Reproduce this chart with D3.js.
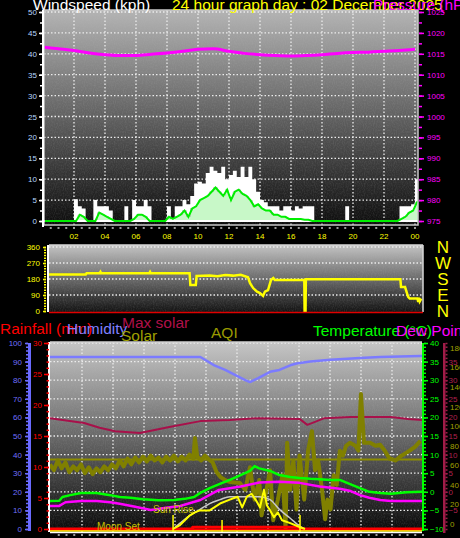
<!DOCTYPE html>
<html>
<head>
<meta charset="utf-8">
<script src="https://cdn.jsdelivr.net/npm/d3@7"></script>
<style>
  body { margin: 0; background: #000; }
  svg { display: block; }
  text { font-family: "Liberation Sans", Arial, sans-serif; }
</style>
</head>
<body>
<svg id="chart" width="460" height="538"></svg>
<script>
// ---- shared hour axis
const hourTicks = [2, 4, 6, 8, 10, 12, 14, 16, 18, 20, 22, 24];
const hourLabels = ["02", "04", "06", "08", "10", "12", "14", "16", "18", "20", "22", "00"];

// ---- windspeed (kph), one reading per quarter hour from 00:00
const windGust = [0,0,0,0,0,0,0,0, 5.2,3.5,3.0,0, 0,5.0,3.5,3.5,3.5,2.5, 0,0,0,3.5,0,
  5.0,3.5,3.5,5.0,3.5, 0,0,0,0, 3.5,0,3.5,3.5, 5.0,4.0,6.0,9.0,
  9.4,9.0,11.5,13.0,12.0,11.5,13.0,10.0, 11.0,12.0,10.5,13.0,10.5,13.0,10.0,7.0,
  5.0,4.5,3.5,3.5,3.5,2.5,3.5,3.5, 2.5,3.5,3.0,3.5,3.5,3.5,
  0,0,0,0,0,0,0,0, 3.5, 0,0,0,0,0,0,0,0,0,0,0,0,0, 3.5,3.5,3.5,4.0,10.0,8.0];
const windAvg = [0,0,0,0,0,0,0,0,0, 1.5,1.0, 0,0,0, 2.0,1.5,1.0,0.5, 0,0,0,0,0,
  0.5,1.5,1.5,1.0, 0,0,0,0,0, 1.0,0.5,1.0,1.5, 2.5,1.0,3.0,3.5,
  5.0,5.5,6.0,7.0,8.0,7.0,6.0,7.5, 5.0,7.0,7.5,6.5,6.0,5.0,3.5,4.0,
  3.0,2.5,2.5,1.5,1.5,1.0,1.0,0.5, 0.5,0.5,0.5,0.3,0.3,0,
  0,0,0,0,0,0,0,0,0,0,0,0,0,0,0,0,0,0,0,0,0,0, 0.5,1.0,2.0,2.5,4.5,5.0];

// ---- pressure (hPa), hourly
const pressureHours = [0,1,2,3,4,5,6,7,8,9,10,11,12,13,14,15,16,17,18,19,20,21,22,23,24];
const pressure = [1016.6,1016.2,1015.8,1015.2,1014.8,1014.6,1014.6,1014.9,1015.2,1015.6,1016.1,1016.2,
  1015.6,1015.1,1014.8,1014.6,1014.5,1014.6,1014.8,1015.1,1015.3,1015.4,1015.6,1015.8,1016.1];

// ---- wind direction (degrees)
const dirHours = [0,2.5,2.55,3.4,3.45,3.5,6.6,6.65,6.7,9.2,9.25,9.6,9.65,10.5,11,11.5,12,12.5,12.97,13.1,13.3,
  13.55,13.74,13.94,14.06,14.26,14.45,14.6,14.7,16.6,16.62,16.68,16.7,22.8,22.84,23.1,23.3,23.4,23.9,23.95,24.0,24.05,24.15];
const dirDeg = [206,206,212,212,220,212,212,220,212,212,146,146,197,199,196,202,199,204,190,157,129,
  109,101,85,109,118,174,185,175,175,0,0,178,178,135,135,80,71,71,50,75,55,70];

// ---- lower panel
const humHours = [0,2,4,6,8,9.7,10,10.6,11.3,11.9,12.6,12.9,13.4,14.2,14.8,15.5,15.9,16.8,18.1,20,21.3,23.9,24];
const humidity = [92.5,92.5,92.5,92.5,92.5,92.5,91,88,85.5,83,80,79,81,84.5,85.5,88,89,90,91,92,92.5,93,93];

const tempHours = [0,0.6,0.8,1.3,2,3,3.9,4.5,5.2,6,7,8,8.7,9.3,9.7,10.3,11,11.6,12.3,12.9,13.2,13.5,14.2,14.8,
  15.5,16.1,16.8,17.4,18.1,18.7,19.4,20,20.6,21.3,22,23,24];
const temperature = [-2.5,-2.4,-1.4,-0.9,-0.3,-0.3,-0.9,-1.4,-1.6,-2.0,-2.3,-2.2,-1.9,-1.4,-0.3,1.0,2.2,3.2,4.5,5.6,
  6.9,6.3,5.6,4.5,4.0,3.7,3.5,3.4,3.2,3.2,2.0,1.0,0.0,-0.3,-0.5,-0.1,0];

const dewHours = [0,0.6,1,2,3,3.9,4.5,5.5,6.5,7.5,8.4,9.7,10.9,12.3,13.5,14.8,16.1,17.4,18.7,19.4,20,20.6,21.3,22,24];
const dewPoint = [-3.8,-3.8,-2.8,-2.5,-2.5,-2.8,-3.2,-4.0,-4.9,-4.3,-3.8,-2.2,0.5,1.4,2.5,2.7,2.4,1.4,0.8,0.2,
  -0.9,-1.6,-2.2,-2.5,-2.5];

const maxSolarHours = [0,2.2,3.2,4.2,5.8,7.7,9.7,11.6,13.5,16.1,16.6,17.1,17.7,19.4,22,23.1,24];
const maxSolar = [19.8,18.5,17.2,16.3,15.8,17.4,19.0,19.3,19.8,19.6,18.0,18.8,19.8,20.1,20.1,19.6,19.3];

const aqiHours = [0,0.25,0.5,0.75,1,1.25,1.5,1.75,2,2.25,2.5,2.75,3,3.25,3.5,3.75,4,4.25,4.5,4.75,5,5.25,5.5,5.75,
  6,6.25,6.5,6.75,7,7.25,7.5,7.75,8,8.25,8.5,8.75,9,9.25,9.35,9.5,9.75,10,10.25,10.5,10.75,11,11.3,11.6,12.25,
  12.6,12.9,13.2,13.5,13.65,13.9,14.2,14.4,14.7,15.0,15.2,15.3,15.5,15.7,15.9,16.1,16.4,16.65,16.9,17.1,17.3,
  17.55,17.75,17.9,18.1,18.3,18.5,18.7,18.9,19.1,19.35,19.7,19.9,20.06,20.26,20.65,21.0,21.3,21.6,21.9,22.3,
  22.6,22.9,23.2,23.55,23.9];
const aqi = [66,60,70,62,68,58,64,60,66,57,63,56,62,58,64,60,66,62,70,64,72,66,73,68,
  74,69,75,70,73,68,74,70,75,69,74,70,76,72,93,74,70,75,71,68,58,53,50,48,47,
  40,63,30,50,14,35,60,9,30,55,0,88,40,70,20,75,30,80,100,60,70,
  40,10,30,20,55,45,80,75,85,88,85,80,138,88,88,85,86,80,72,70,
  74,77,80,84,90];
const aqiAverage = 71;

const solarHours = [7.94,8.39,9.03,9.35,9.68,10.3,10.97,11.6,12.1,12.4,12.7,13.0,13.3,13.55,13.8,14.0,14.2,14.45,14.7,14.97,15.5,16.1,16.45];
const solar = [0,4,14,17,19,19,26,30,33,22,33,36,29,22,40,24,19,12,17,9,6,2,0];

const clearSkyHours = [7.94,8.39,9.03,9.68,10.3,10.97,11.6,12.3,12.9,13.5,14.2,14.8,15.5,16.1,16.45];
const clearSky = [0,6,14,20,26,30,33,33,33,33,30,20,11,3,0];

const rainHours = [0,9.2,9.2,16.1,16.1,24.2];
const rain = [0,0,0.3,0.3,0,0];

// sun / moon markers (hour)
const sunRise = 7.94, sunNoon = 11.1, sunSet = 16.13;

// ---------------------------------------------------------------
const svg = d3.select("#chart");
const defs = svg.append("defs");
const FONT = "Liberation Sans, Arial, sans-serif";

function addGradient(id, top, bottom) {
  const g = defs.append("linearGradient").attr("id", id)
    .attr("x1", 0).attr("y1", 0).attr("x2", 0).attr("y2", 1);
  g.append("stop").attr("offset", "0%").attr("stop-color", top);
  g.append("stop").attr("offset", "100%").attr("stop-color", bottom);
}
addGradient("gTop", "#b4b4b4", "#0c0c0c");
addGradient("gMid", "#c4c4c4", "#121212");
addGradient("gBot", "#c6c6c6", "#080808");

// grainy dither like the original bitmap
const noise = defs.append("filter").attr("id", "grain").attr("x", 0).attr("y", 0).attr("width", 1).attr("height", 1);
noise.append("feTurbulence").attr("type", "fractalNoise").attr("baseFrequency", "0.9 0.6").attr("numOctaves", 1).attr("seed", 3);
noise.append("feColorMatrix").attr("values", "0 0 0 0 0.5  0 0 0 0 0.5  0 0 0 0 0.5  0.9 0 0 0 -0.35");

function panel(id, p, grad) {
  defs.append("clipPath").attr("id", id)
    .append("rect").attr("x", p.x0).attr("y", p.y0).attr("width", p.x1 - p.x0).attr("height", p.y1 - p.y0);
  svg.append("rect").attr("x", p.x0).attr("y", p.y0).attr("width", p.x1 - p.x0).attr("height", p.y1 - p.y0)
    .attr("fill", `url(#${grad})`);
  svg.append("rect").attr("x", p.x0).attr("y", p.y0).attr("width", p.x1 - p.x0).attr("height", p.y1 - p.y0)
    .attr("filter", "url(#grain)").attr("opacity", 0.35);
  return svg.append("g").attr("clip-path", `url(#${id})`);
}

function dotted(g, x1, y1, x2, y2) {
  g.append("line").attr("x1", x1).attr("y1", y1).attr("x2", x2).attr("y2", y2)
    .attr("stroke", "#ececec").attr("stroke-width", 1.3).attr("stroke-dasharray", "1.5,2");
}

function styleAxis(sel, tickColor, textColor, size) {
  sel.select(".domain").remove();
  sel.selectAll("line").attr("stroke", tickColor).attr("stroke-width", 1.5);
  sel.selectAll("text").attr("fill", textColor).attr("font-size", size).attr("font-family", FONT);
}

function drawAxis(x, scale, orient, major, minor, tickColor, textColor, majorSize, minorSize, pad) {
  const make = orient === "left" ? d3.axisLeft : d3.axisRight;
  svg.append("g").attr("transform", `translate(${x},0)`)
    .call(make(scale).tickValues(minor).tickSize(minorSize).tickFormat(""))
    .call(s => styleAxis(s, tickColor, textColor, 8));
  svg.append("g").attr("transform", `translate(${x},0)`)
    .call(make(scale).tickValues(major).tickSize(majorSize).tickPadding(pad).tickFormat(d3.format("d")))
    .call(s => styleAxis(s, tickColor, textColor, 8));
}

// ================= TOP: windspeed + pressure =================
const pTop = { x0: 44, x1: 418, y0: 10, y1: 225 };
const xT = d3.scaleLinear().domain([0, 24]).range([43, 415]);
const yW = d3.scaleLinear().domain([0, 50]).range([221, 12]);
const yP = d3.scaleLinear().domain([975, 1025]).range([221, 12]);
const gTop = panel("cTop", pTop, "gTop");

d3.range(0, 51, 5).forEach(v => dotted(gTop, pTop.x0, yW(v), pTop.x1, yW(v)));
hourTicks.forEach(h => dotted(gTop, xT(h), pTop.y0, xT(h), pTop.y1));

const windHours = windGust.map((d, i) => i / 4);
gTop.append("path")
  .datum(windHours)
  .attr("fill", "#c8f8c8")
  .attr("d", d3.area().curve(d3.curveStepAfter).x(h => xT(h)).y0(yW(0)).y1((h, i) => yW(windAvg[i])));
gTop.append("path")
  .datum(windHours)
  .attr("fill", "#ffffff")
  .attr("d", d3.area().curve(d3.curveStepAfter).x(h => xT(h))
    .y0((h, i) => yW(windAvg[i])).y1((h, i) => yW(windGust[i])));
gTop.append("line").attr("x1", pTop.x0).attr("x2", pTop.x1).attr("y1", yW(0)).attr("y2", yW(0))
  .attr("stroke", "#ffffff").attr("stroke-width", 2);
gTop.append("path")
  .datum(windHours)
  .attr("fill", "none").attr("stroke", "#00ee00").attr("stroke-width", 2)
  .attr("d", d3.line().x(h => xT(h) + 2).y((h, i) => yW(windAvg[i])));

gTop.append("path")
  .datum(pressureHours)
  .attr("fill", "none").attr("stroke", "#ff00ff").attr("stroke-width", 3)
  .attr("d", d3.line().curve(d3.curveMonotoneX).x(h => xT(h)).y((h, i) => yP(pressure[i])));

// frame
svg.append("rect").attr("x", pTop.x0).attr("y", pTop.y0).attr("width", pTop.x1 - pTop.x0).attr("height", pTop.y1 - pTop.y0)
  .attr("fill", "none").attr("stroke", "#c8c8c8").attr("stroke-width", 1.5);
svg.append("line").attr("x1", 43).attr("x2", 43).attr("y1", pTop.y0).attr("y2", pTop.y1 + 2)
  .attr("stroke", "#ffffff").attr("stroke-width", 2);

drawAxis(42, yW, "left", d3.range(0, 51, 5), d3.range(0, 50.1, 2.5), "#ffffff", "#b8d8ff", 3, 2, 2);
drawAxis(419, yP, "right", d3.range(975, 1026, 5), d3.range(975, 1025.1, 2.5), "#ff00ff", "#ff00ff", 5, 3, 3);

// hour ticks and labels
svg.append("g").selectAll("rect").data(d3.range(0.5, 24.1, 0.5)).join("rect")
  .attr("x", h => xT(h) - 1).attr("y", 227).attr("width", 2).attr("height", 2).attr("fill", "#9a9a9a");
svg.append("g").selectAll("text").data(hourTicks).join("text")
  .attr("x", h => xT(h)).attr("y", 239).attr("text-anchor", "middle")
  .attr("fill", "#ffff00").attr("font-size", 8).text((h, i) => hourLabels[i]);

// titles
svg.append("text").attr("x", 33).attr("y", 9.5).attr("fill", "#ffffff").attr("font-size", 15.5).text("Windspeed (kph)");
svg.append("text").attr("x", 172).attr("y", 9.5).attr("fill", "#ffff00").attr("font-size", 15.5).text("24 hour graph day : 02 December 2025");
svg.append("text").attr("x", 373).attr("y", 9.5).attr("fill", "#ff00ff").attr("font-size", 15.5).text("Pressure (hPa)");

// ================= MIDDLE: wind direction =================
const pMid = { x0: 49, x1: 423, y0: 245, y1: 312 };
const xM = d3.scaleLinear().domain([0, 24]).range([47, 419]);
const yD = d3.scaleLinear().domain([0, 360]).range([311, 247]);
const gMid = panel("cMid", pMid, "gMid");
[90, 180, 270, 360].forEach(v => dotted(gMid, pMid.x0, yD(v), pMid.x1, yD(v)));

gMid.append("path")
  .datum(dirHours)
  .attr("fill", "none").attr("stroke", "#ffff00").attr("stroke-width", 2.5)
  .attr("d", d3.line().x(h => xM(h)).y((h, i) => yD(dirDeg[i])));

svg.append("line").attr("x1", pMid.x0).attr("x2", pMid.x1).attr("y1", pMid.y0).attr("y2", pMid.y0)
  .attr("stroke", "#d8d8d8").attr("stroke-width", 1.5);
svg.append("line").attr("x1", 48).attr("x2", 48).attr("y1", pMid.y0).attr("y2", pMid.y1)
  .attr("stroke", "#ffffff").attr("stroke-width", 2);
svg.append("line").attr("x1", pMid.x1).attr("x2", pMid.x1).attr("y1", pMid.y0).attr("y2", pMid.y1)
  .attr("stroke", "#d8d8d8").attr("stroke-width", 1.5);
svg.append("line").attr("x1", pMid.x0).attr("x2", pMid.x1).attr("y1", 312.5).attr("y2", 312.5)
  .attr("stroke", "#e00000").attr("stroke-width", 1.5);

drawAxis(46, yD, "left", [0, 90, 180, 270, 360], d3.range(0, 361, 15), "#ffff00", "#ffff00", 3, 2, 3);

const compass = ["N", "W", "S", "E", "N"];
svg.append("g").selectAll("text").data(compass).join("text")
  .attr("x", 443).attr("y", (d, i) => yD(360 - i * 90) + 6).attr("text-anchor", "middle")
  .attr("fill", "#ffff00").attr("font-size", 17).text(d => d);

// ================= BOTTOM: rain, humidity, solar, AQI, temp =================
const pBot = { x0: 50, x1: 422, y0: 342, y1: 532 };
const xB = d3.scaleLinear().domain([0, 24]).range([50, 422]);
const yH = d3.scaleLinear().domain([0, 100]).range([529, 343]);
const yR = d3.scaleLinear().domain([0, 30]).range([529, 343]);
const yT = d3.scaleLinear().domain([-10, 40]).range([529, 343]);
const yS = d3.scaleLinear().domain([0, 190]).range([529, 343]);
const gBot = panel("cBot", pBot, "gBot");

d3.range(10, 101, 10).forEach(v => dotted(gBot, pBot.x0, yH(v), pBot.x1, yH(v)));
hourTicks.forEach(h => dotted(gBot, xB(h) + 1, pBot.y0, xB(h) + 1, pBot.y1));

function series(g, hours, values, y, color, width, curve) {
  g.append("path").datum(hours)
    .attr("fill", "none").attr("stroke", color).attr("stroke-width", width).attr("stroke-linejoin", "round")
    .attr("d", d3.line().curve(curve || d3.curveLinear).x(h => xB(h)).y((h, i) => y(values[i])));
}

series(gBot, maxSolarHours, maxSolar, yT, "#a8104a", 2);
series(gBot, humHours, humidity, yH, "#7b7bff", 2.5);
gBot.append("line").attr("x1", pBot.x0).attr("x2", pBot.x1).attr("y1", yS(aqiAverage)).attr("y2", yS(aqiAverage))
  .attr("stroke", "#8c8c00").attr("stroke-width", 2);
series(gBot, aqiHours, aqi, yS, "#808000", 4);
series(gBot, tempHours, temperature, yT, "#00ff00", 2.5);
series(gBot, dewHours, dewPoint, yT, "#ff00ff", 2.5);
series(gBot, clearSkyHours, clearSky, yS, "#c8c8c8", 1.5, d3.curveMonotoneX);
gBot.append("line").attr("x1", pBot.x0).attr("x2", pBot.x1).attr("y1", 530).attr("y2", 530)
  .attr("stroke", "#ff0000").attr("stroke-width", 2);
series(gBot, rainHours, rain, yR, "#ff0000", 3);
series(gBot, solarHours, solar, yS, "#ffff00", 2);
gBot.append("line").attr("x1", pBot.x0).attr("x2", pBot.x1).attr("y1", 531).attr("y2", 531)
  .attr("stroke", "#ffff00").attr("stroke-width", 1.5);

[[sunRise, 515], [sunNoon, 520], [sunSet, 515]].forEach(([h, top]) => {
  gBot.append("line").attr("x1", xB(h)).attr("x2", xB(h)).attr("y1", top).attr("y2", 532)
    .attr("stroke", "#ffff00").attr("stroke-width", 1.5);
});
gBot.append("text").attr("x", 153).attr("y", 513).attr("fill", "#c8c000").attr("font-size", 10).text("Sun Rise");
gBot.append("text").attr("x", 97).attr("y", 530).attr("fill", "#c8c000").attr("font-size", 10).text("Moon Set");

// frame
svg.append("line").attr("x1", pBot.x0).attr("x2", pBot.x1).attr("y1", pBot.y0).attr("y2", pBot.y0)
  .attr("stroke", "#d0d0d0").attr("stroke-width", 1.5);
svg.append("line").attr("x1", 49).attr("x2", 49).attr("y1", pBot.y0).attr("y2", pBot.y1)
  .attr("stroke", "#ffffff").attr("stroke-width", 2);
svg.append("line").attr("x1", pBot.x0).attr("x2", pBot.x1).attr("y1", pBot.y1 + 0.5).attr("y2", pBot.y1 + 0.5)
  .attr("stroke", "#ffffff").attr("stroke-width", 1.5);
svg.append("g").selectAll("rect").data(d3.range(0.5, 24.1, 0.5)).join("rect")
  .attr("x", h => xB(h)).attr("y", 534).attr("width", 2).attr("height", 2).attr("fill", "#9a9a9a");

// left axes
svg.append("rect").attr("x", 28).attr("y", 343).attr("width", 3).attr("height", 188).attr("fill", "#6a6aff");
drawAxis(28, yH, "left", d3.range(0, 101, 10), d3.range(0, 101, 2), "#6a6aff", "#7070ff", 3, 2, 3);
drawAxis(49, yR, "left", d3.range(0, 31, 5), d3.range(0, 31, 1), "#ff0000", "#ff0000", 5, 2.5, 2);

// right axes
svg.append("rect").attr("x", 422).attr("y", 343).attr("width", 2).attr("height", 188).attr("fill", "#00ff00");
drawAxis(424, yT, "right", d3.range(-10, 41, 5), d3.range(-10, 41, 1), "#00ff00", "#00ff00", 4, 2, 2);
svg.append("rect").attr("x", 443).attr("y", 343).attr("width", 2.5).attr("height", 190).attr("fill", "#a01c48");
drawAxis(445.5, yT, "right", d3.range(-5, 36, 5), d3.range(-10, 41, 1), "#a01c48", "#b0204e", 2, 2, 1);
svg.append("g").selectAll("text").data(d3.range(0, 181, 20)).join("text")
  .attr("x", 450).attr("y", v => yS(v) - 2).attr("fill", "#a0a000").attr("font-size", 8).text(v => v);

// titles
const lowTitles = [
  { t: "Rainfall (mm)", x: 0, y: 334, c: "#ff0000" },
  { t: "Humidity", x: 67, y: 334, c: "#8080ff" },
  { t: "Max solar", x: 122, y: 328, c: "#b0104a" },
  { t: "Solar", x: 121, y: 341, c: "#a0a000" },
  { t: "AQI", x: 211, y: 338, c: "#9a9a00" },
  { t: "Temperature (°C)", x: 313, y: 336, c: "#00ff00" },
  { t: "Dew Point", x: 396, y: 336, c: "#ff00ff" }
];
svg.append("g").selectAll("text").data(lowTitles).join("text")
  .attr("x", d => d.x).attr("y", d => d.y).attr("fill", d => d.c).attr("font-size", 15.5).text(d => d.t);
</script>
</body>
</html>
